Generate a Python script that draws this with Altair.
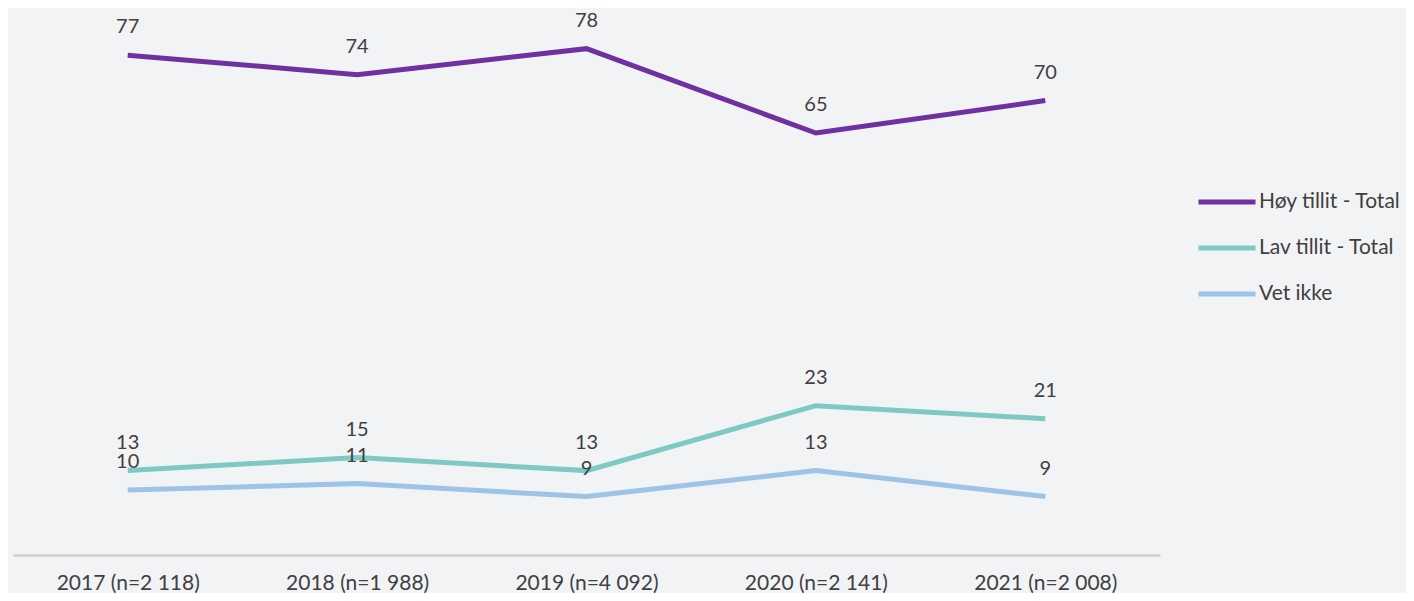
import altair as alt
import pandas as pd

years = ["2017 (n=2 118)", "2018 (n=1 988)", "2019 (n=4 092)", "2020 (n=2 141)", "2021 (n=2 008)"]
series_names = ["Høy tillit - Total", "Lav tillit - Total", "Vet ikke"]
hoy = [77, 74, 78, 65, 70]
lav = [13, 15, 13, 23, 21]
vet = [10, 11, 9, 13, 9]
colors = ["#7030a0", "#7fc9c4", "#9dc3e6"]

rows = []
for name, vals in zip(series_names, [hoy, lav, vet]):
    for y, v in zip(years, vals):
        rows.append({"year": y, "series": name, "value": v})
df = pd.DataFrame(rows)

FONT = "Lato"
TXT = "#404040"

x = alt.X("year:N", sort=years, title=None,
          scale=alt.Scale(type="point", padding=0.5),
          axis=alt.Axis(domainColor="#c8c8c8", domainWidth=2, ticks=False,
                        labelAngle=0, labelFontSize=21, labelColor=TXT,
                        labelFont=FONT, labelPadding=17, grid=False))
y = alt.Y("value:Q", title=None, scale=alt.Scale(domain=[0, 83.8], nice=False, zero=True),
          axis=None)

base = alt.Chart(df)

lines = base.mark_line(strokeWidth=5, strokeCap="butt").encode(
    x=x, y=y,
    color=alt.Color("series:N", sort=series_names,
                    scale=alt.Scale(domain=series_names, range=colors),
                    legend=alt.Legend(title=None, orient="none", legendX=1183, legendY=181,
                                      symbolType="stroke", symbolSize=3249, symbolStrokeWidth=5,
                                      clipHeight=20, rowPadding=25, labelOffset=1,
                                      labelFontSize=21, labelColor=TXT, labelFont=FONT,
                                      labelLimit=300)),
    detail="series:N",
)

labels = base.mark_text(dy=-28, fontSize=20, color=TXT, font=FONT, baseline="middle").encode(
    x=x, y=y, text="value:Q",
)

chart = alt.layer(lines, labels).properties(
    width=1147, height=544,
    autosize=alt.AutoSizeParams(type="none"),
    padding={"left": 5, "top": 3, "right": 246, "bottom": 38},
).configure(
    background="#f2f3f5"
).configure_view(stroke=None)

chart.save("out.html", embed_options={"renderer": "svg", "actions": False})
